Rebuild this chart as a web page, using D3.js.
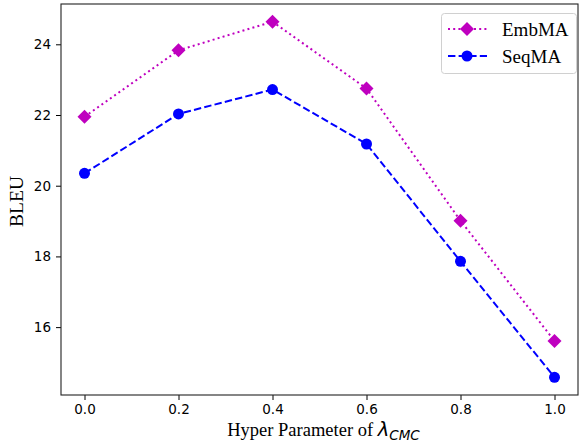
<!DOCTYPE html>
<html>
<head>
<meta charset="utf-8">
<script src="https://cdn.jsdelivr.net/npm/d3@7"></script>
<style>
  body { margin: 0; background: #fff; }
  svg { display: block; }
</style>
</head>
<body>
<div id="chart"></div>
<script>
// data
const lambdas = [0.0, 0.2, 0.4, 0.6, 0.8, 1.0];
const embMA = [21.95, 23.83, 24.64, 22.75, 19.01, 15.61];
const seqMA = [20.35, 22.03, 22.72, 21.18, 17.86, 14.58];
const xTicks = [0.0, 0.2, 0.4, 0.6, 0.8, 1.0];
const yTicks = [16, 18, 20, 22, 24];

const width = 580, height = 446;
const margin = { left: 61, right: 2, top: 4, bottom: 51 };

const svg = d3.select("#chart")
  .append("svg")
  .attr("width", width)
  .attr("height", height);

const x = d3.scaleLinear().domain([-0.05, 1.05]).range([margin.left, width - margin.right]);
const y = d3.scaleLinear().domain([14.08, 25.14]).range([height - margin.bottom, margin.top]);

// axes
const xAxis = svg.append("g")
  .attr("transform", `translate(0,${height - margin.bottom})`)
  .call(d3.axisBottom(x).tickValues(xTicks).tickFormat(d3.format(".1f")).tickSizeOuter(0).tickSize(5).tickPadding(4));
const yAxis = svg.append("g")
  .attr("transform", `translate(${margin.left},0)`)
  .call(d3.axisLeft(y).tickValues(yTicks).tickFormat(d3.format("d")).tickSizeOuter(0).tickSize(5).tickPadding(5));

[xAxis, yAxis].forEach(g => {
  g.select(".domain").remove();
  g.selectAll("line").attr("stroke", "#000").attr("stroke-width", 1);
  g.selectAll("text")
    .attr("fill", "#000")
    .attr("font-family", "DejaVu Sans")
    .attr("font-size", "13.5px");
});

// frame
svg.append("rect")
  .attr("x", margin.left)
  .attr("y", margin.top)
  .attr("width", width - margin.left - margin.right)
  .attr("height", height - margin.top - margin.bottom)
  .attr("fill", "none")
  .attr("stroke", "#222")
  .attr("stroke-width", 1.1);

const line = d3.line().x((d, i) => x(lambdas[i])).y(d => y(d));

const series = [
  { name: "EmbMA", values: embMA, color: "#bf00bf", dash: "2,3.2", marker: "diamond" },
  { name: "SeqMA", values: seqMA, color: "#0000ff", dash: "7.4,3.2", marker: "circle" }
];

const diamond = (cx, cy, r) => `M${cx},${cy - r}L${cx + r},${cy}L${cx},${cy + r}L${cx - r},${cy}Z`;

series.forEach(s => {
  svg.append("path")
    .datum(s.values)
    .attr("d", line)
    .attr("fill", "none")
    .attr("stroke", s.color)
    .attr("stroke-width", 2)
    .attr("stroke-dasharray", s.dash);

  if (s.marker === "diamond") {
    svg.selectAll(null)
      .data(s.values)
      .enter()
      .append("path")
      .attr("d", (d, i) => diamond(x(lambdas[i]), y(d), 7))
      .attr("fill", s.color);
  } else {
    svg.selectAll(null)
      .data(s.values)
      .enter()
      .append("circle")
      .attr("cx", (d, i) => x(lambdas[i]))
      .attr("cy", d => y(d))
      .attr("r", 5.5)
      .attr("fill", s.color);
  }
});

// legend
const legend = svg.append("g");
legend.append("rect")
  .attr("x", 441.5)
  .attr("y", 13.5)
  .attr("width", 135)
  .attr("height", 60)
  .attr("rx", 3)
  .attr("fill", "#fff")
  .attr("fill-opacity", 0.8)
  .attr("stroke", "#d0d0d0");

series.forEach((s, i) => {
  const ly = 29 + i * 27;
  legend.append("line")
    .attr("x1", 448).attr("x2", 487)
    .attr("y1", ly).attr("y2", ly)
    .attr("stroke", s.color)
    .attr("stroke-width", 2)
    .attr("stroke-dasharray", s.dash);
  if (s.marker === "diamond") {
    legend.append("path").attr("d", diamond(467, ly, 7)).attr("fill", s.color);
  } else {
    legend.append("circle").attr("cx", 467).attr("cy", ly).attr("r", 5.5).attr("fill", s.color);
  }
  legend.append("text")
    .attr("x", 502)
    .attr("y", ly + 6.5)
    .attr("font-family", "Liberation Serif")
    .attr("font-size", "19px")
    .attr("fill", "#000")
    .text(s.name);
});

// axis labels
svg.append("text")
  .attr("transform", `translate(23,${(margin.top + height - margin.bottom) / 2 + 2}) rotate(-90)`)
  .attr("text-anchor", "middle")
  .attr("font-family", "Liberation Serif")
  .attr("font-size", "19.5px")
  .attr("fill", "#000")
  .text("BLEU");

const xl = svg.append("text")
  .attr("x", (margin.left + width - margin.right) / 2 + 4)
  .attr("y", 436)
  .attr("text-anchor", "middle")
  .attr("font-family", "Liberation Serif")
  .attr("font-size", "18.5px")
  .attr("fill", "#000");
xl.append("tspan").text("Hyper Parameter of ");
xl.append("tspan").attr("font-family", "DejaVu Sans").attr("font-style", "italic").attr("font-size", "19.5px").text("λ");
xl.append("tspan")
  .attr("font-family", "DejaVu Sans")
  .attr("font-style", "italic")
  .attr("font-size", "13.5px")
  .attr("dy", 4)
  .text("CMC");
</script>
</body>
</html>
